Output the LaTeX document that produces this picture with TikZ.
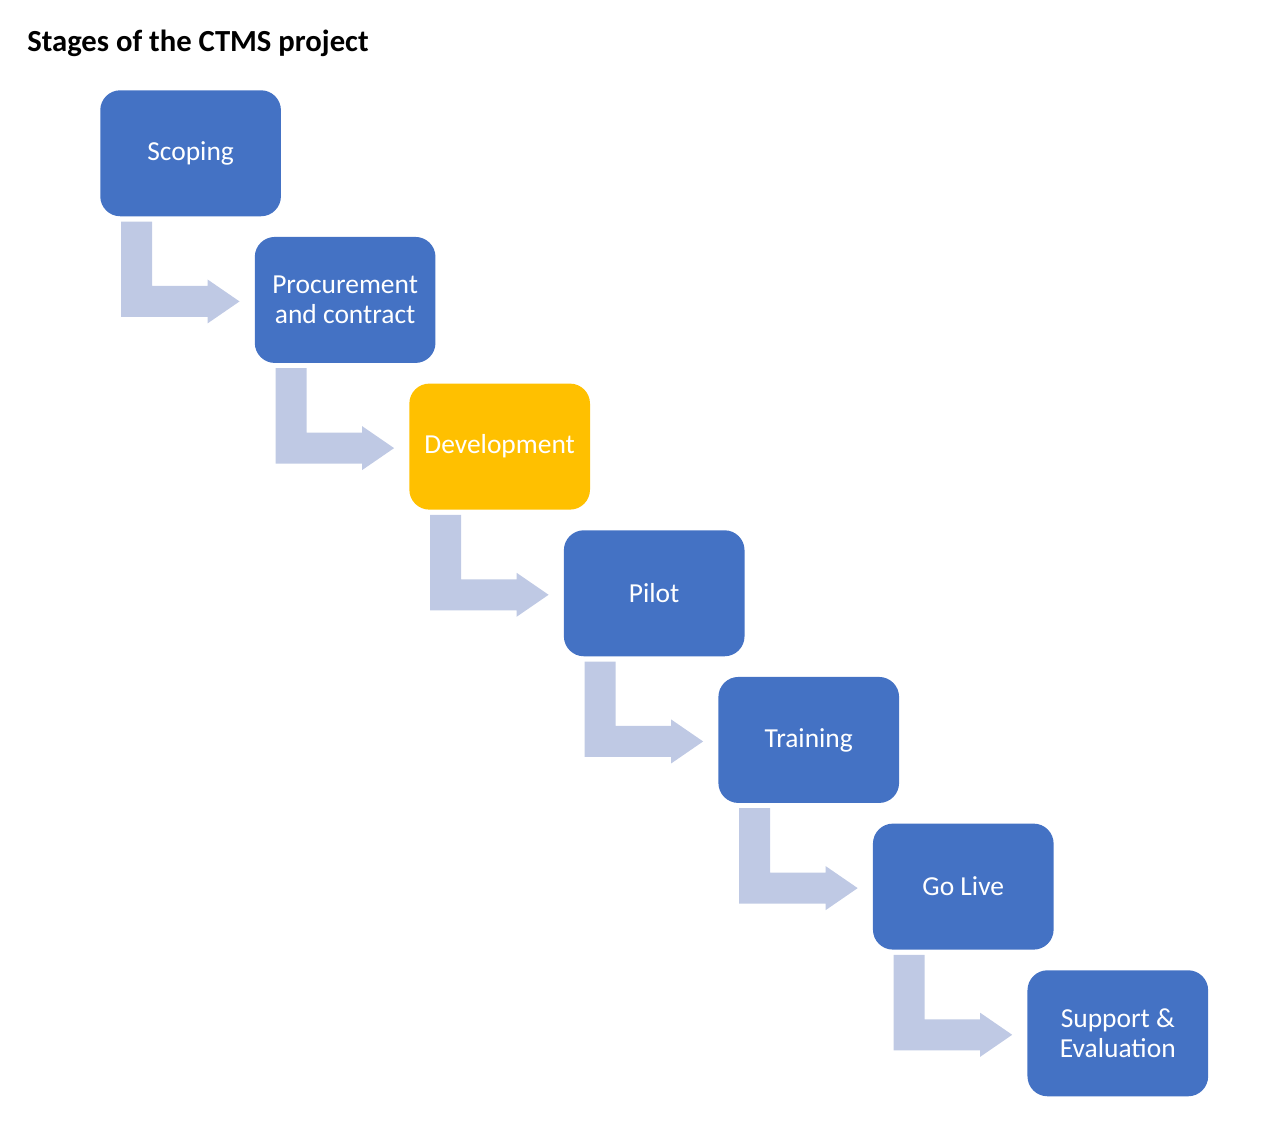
\documentclass[tikz,border=0pt]{standalone}
\usepackage{fontspec}
\setmainfont{Carlito}
\usetikzlibrary{positioning,calc}
\definecolor{stageblue}{RGB}{68,114,196}
\definecolor{stageyellow}{RGB}{255,192,0}
\definecolor{flowgrey}{RGB}{191,201,228}

\begin{document}
\begin{tikzpicture}[x=0.75pt,y=-0.75pt,
    stage/.style={rectangle, rounded corners=15pt, fill=stageblue, text=white,
        minimum width=135.5pt, minimum height=94.5pt, align=center, inner sep=0pt,
        font=\fontsize{20.6}{22.8}\selectfont},
    bent/.style={fill=flowgrey}]

    % Frame
    \useasboundingbox (0,0) rectangle (1262,1143);

    % Title
    \node[anchor=base west, inner sep=0pt, font=\bfseries\fontsize{23}{27}\selectfont] (title) at (27,51) {Stages of the CTMS project};

    % Stages
    \node[stage, anchor=north west] (scoping) at (100,90) {Scoping};
    \node[stage, below right=15.1pt and -20pt of scoping] (procure) {Procurement\\and contract};
    \node[stage, fill=stageyellow, below right=15.1pt and -20pt of procure] (devel) {Development};
    \node[stage, below right=15.1pt and -20pt of devel] (pilot) {Pilot};
    \node[stage, below right=15.1pt and -20pt of pilot] (training) {Training};
    \node[stage, below right=15.1pt and -20pt of training] (golive) {Go Live};
    \node[stage, below right=15.1pt and -20pt of golive] (support) {Support \&\\Evaluation};

    % Bent arrows
    \foreach \a/\b in {scoping/procure, procure/devel, devel/pilot, pilot/training, training/golive, golive/support}
        \fill[bent] ($(\a.south west)+(21,5)$) coordinate (p) -- ++(31,0)
            |- ($(\b.west)+(-47,-14)$) -- ++(0,-6.5) -- ($(\b.west)+(-15,1.5)$)
            -- ($(\b.west)+(-47,23.5)$) -- ++(0,-6.5) -| (p) -- cycle;
\end{tikzpicture}
\end{document}
